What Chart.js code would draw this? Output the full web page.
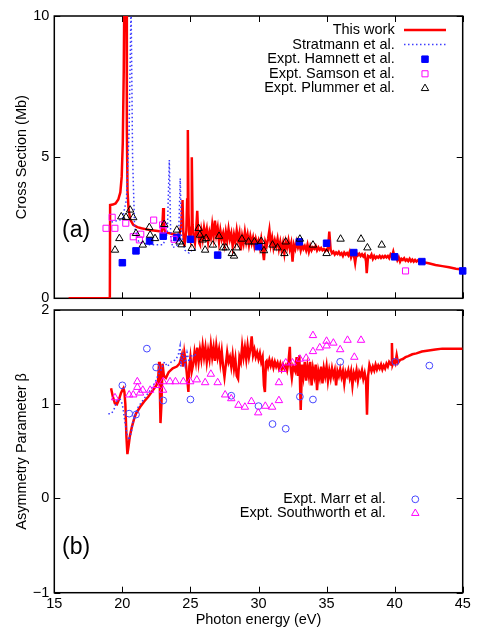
<!DOCTYPE html>
<html><head><meta charset="utf-8">
<script src="https://cdn.jsdelivr.net/npm/chart.js"></script>
<style>
html,body{margin:0;padding:0;background:#fff;overflow:hidden;}
#w1{position:absolute;left:0;top:0;width:486px;height:304px;}
#w2{position:absolute;left:0;top:304px;width:486px;height:325px;}
</style></head><body>
<div id="w1"><canvas id="c1"></canvas></div>
<div id="w2"><canvas id="c2"></canvas></div>
<script>
// ---------- tick labels ----------
const energyTicks = [15, 20, 25, 30, 35, 40, 45];
const sigmaTicks = [0, 5, 10];
const betaTicks = [-1, 0, 1, 2];

// ---------- panel (a): cross section (Mb) vs photon energy (eV) ----------
const workSigma = [
[16.05,0],[19.08,0],[19.1,3.3],[19.3,3.32],[19.5,3.36],[19.7,3.5],[19.85,3.75],[19.95,4.3],[20.03,5.5],[20.1,8],[20.15,11],
[20.3,11],[20.33,6],[20.38,3.8],[20.45,3.2],[20.57,2.8],[20.8,2.6],[21.1,2.52],[21.4,2.48],[21.7,2.45],[22.0,2.42],[22.3,2.4],
[22.6,2.38],[22.9,2.36],[22.96,2.8],[23.0,3.2],[23.05,2.5],[23.15,2.34],[23.4,2.31],[23.7,2.28],[24.0,2.24],[24.2,2.27],
[24.33,2.6],[24.42,3.48],[24.48,2.3],[24.55,1.83],[24.62,2.1],[24.7,2.4],[24.76,3.5],[24.81,5.96],[24.86,3.0],[24.92,2.2],
[25.0,2.05],[25.05,2.5],[25.1,5.0],[25.16,2.6],[25.25,2.1],[25.33,1.95],[25.42,2.4],[25.5,3.1],[25.57,2.3],[25.65,1.95],
[25.7,1.9],[25.8,2.4],[25.9,2.1],[26.0,2.5],[26.1,2.2],[26.2,2.45],[26.3,2.0],[26.4,2.35],[26.5,2.15],[26.6,2.6],[26.7,2.2],
[26.8,2.75],[26.9,2.25],[27.0,2.5],[27.1,2.0],[27.2,2.4],[27.3,2.1],[27.4,2.3],[27.5,1.95],[27.6,2.35],[27.7,2.05],[27.8,2.45],
[27.9,2.1],[28.0,2.3],[28.1,1.85],[28.2,2.25],[28.3,2.0],[28.4,2.4],[28.5,2.05],[28.6,2.3],[28.7,1.7],[28.8,2.2],[28.9,1.95],
[29.0,2.35],[29.1,2.0],[29.2,2.25],[29.3,1.9],[29.4,2.2],[29.5,1.95],[29.6,2.15],[29.7,1.85],[29.8,2.1],[29.9,1.9],[30.0,2.05],
[30.1,1.8],[30.2,2.1],[30.3,1.75],[30.4,1.35],[30.5,2.0],[30.6,1.85],[30.7,2.1],[30.8,2.42],[30.9,1.9],[31.0,2.15],[31.1,1.8],
[31.2,2.05],[31.3,1.85],[31.4,2.1],[31.5,1.75],[31.6,2.0],[31.7,1.7],[31.8,1.95],[31.9,1.6],[32.0,2.0],[32.1,1.8],[32.2,2.05],
[32.3,1.75],[32.4,1.95],[32.5,1.3],[32.6,1.9],[32.7,1.75],[32.8,2.0],[32.9,1.8],[33.0,1.95],[33.1,1.7],[33.2,1.9],[33.3,1.75],
[33.4,1.85],[33.5,1.7],[33.6,1.9],[33.7,1.65],[33.8,1.85],[33.9,1.7],[34.0,1.8],[34.1,1.75],[34.2,1.85],[34.3,1.7],[34.4,1.8],
[34.5,1.72],[34.6,1.78],[34.7,1.7],[34.8,1.75],[34.9,1.68],[35.0,1.74],[35.1,1.7],[35.2,2.36],[35.3,1.72],[35.4,1.6],[35.5,1.65],
[35.6,1.55],[35.7,1.62],[35.8,1.57],[35.9,1.64],[36.0,1.55],[36.1,1.6],[36.2,1.5],[36.3,1.62],[36.4,1.55],[36.5,1.6],[36.6,1.52],
[36.7,1.65],[36.8,1.45],[36.9,1.58],[37.0,1.55],[37.1,1.25],[37.2,1.6],[37.3,1.52],[37.4,1.58],[37.5,1.5],[37.6,1.56],[37.7,1.48],
[37.8,1.55],[37.9,1.3],[37.95,0.89],[38.05,1.5],[38.2,1.45],[38.3,1.55],[38.4,1.4],[38.5,1.5],[38.6,1.42],[38.7,1.48],[38.8,1.44],
[38.9,1.5],[39.0,1.43],[39.1,1.49],[39.2,1.44],[39.3,1.5],[39.4,1.45],[39.5,1.5],[39.6,1.42],[39.7,1.55],[39.8,1.48],[39.9,1.65],
[40.0,1.45],[40.1,1.5],[40.2,1.35],[40.3,1.45],[40.4,1.3],[40.5,1.4],[40.6,1.36],[40.7,1.42],[40.8,1.33],[40.9,1.38],[41.0,1.32],
[41.1,1.4],[41.2,1.31],[41.3,1.37],[41.4,1.3],[41.5,1.36],[41.6,1.3],[41.7,1.34],[41.8,1.3],[42.0,1.29],[42.5,1.24],[43.0,1.18],
[43.5,1.14],[44.0,1.1],[44.5,1.05],[45.0,1.02]
];
const stratmannSigma = [
[19.2,2.7],[19.6,2.75],[20.0,2.8],[20.3,3.5],[20.5,6],[20.64,10.5],[20.75,5],[20.9,2.5],[21.2,2.0],[21.6,1.95],[22.0,1.9],
[22.5,1.9],[23.0,1.9],[23.3,2.3],[23.45,4.9],[23.55,2.2],[23.7,1.8],[24.0,1.85],[24.15,2.5],[24.25,4.25],[24.35,2.2],[24.6,1.7],
[24.9,1.6],[25.2,1.75],[25.5,1.7]
];
const hamnettE = [20, 21, 22, 23, 24, 25, 27, 30, 33, 35, 37, 40, 42, 45];
const hamnettSigma = [1.26, 1.68, 2.03, 2.2, 2.15, 2.09, 1.53, 1.83, 2.0, 1.95, 1.62, 1.47, 1.3, 0.97];
const samsonSigma = [
[18.8,2.48],[19.25,2.87],[19.45,2.48],[20.25,2.66],[20.8,2.18],[21.25,2.07],[21.35,2.27],[22.3,2.77],[22.95,2.6],[23.0,2.42],
[23.8,2.09],[40.8,0.97]
];
const plummerSigma = [
[19.46,1.71],[19.78,2.12],[19.92,2.89],[20.27,2.87],[20.57,3.13],[20.8,2.86],[21.0,2.3],[21.5,1.89],[21.98,2.51],[22.04,2.24],
[22.4,2.12],[23.07,2.62],[24.0,2.42],[24.2,2.0],[24.35,1.9],[25.1,1.77],[25.6,2.48],[25.7,2.24],[25.9,2.07],[26.08,1.71],
[26.15,2.12],[26.65,1.89],[27.1,2.2],[27.4,1.79],[27.6,1.79],[28.04,1.59],[28.2,1.5],[28.4,1.79],[28.78,2.1],[29.27,2.0],
[29.7,2.0],[30.2,2.02],[30.4,1.69],[31.03,1.89],[31.4,1.79],[31.9,1.59],[32.0,2.0],[33.04,2.1],[34.0,1.89],[35.0,1.59],
[36.03,2.1],[37.53,2.1],[38.0,1.79],[39.05,1.89]
];

// ---------- panel (b): asymmetry parameter beta ----------
const workBeta = [
[19.17,1.17],[19.3,1.08],[19.45,1.01],[19.6,1.0],[19.75,1.05],[19.9,1.12],[20.0,1.15],[20.08,1.17],[20.15,1.13],[20.22,1.0],
[20.3,0.65],[20.37,0.47],[20.45,0.55],[20.55,0.66],[20.7,0.76],[20.85,0.84],[21.0,0.9],[21.3,0.97],[21.6,1.03],[21.9,1.08],
[22.2,1.14],[22.5,1.2],[22.62,1.25],[22.7,1.45],[22.75,1.2],[22.8,0.8],[22.87,1.0],[22.95,1.43],[23.05,1.3],[23.2,1.28],
[23.4,1.34],[23.7,1.38],[24.0,1.4],[24.2,1.43],[24.3,1.48],[24.37,1.52],[24.45,1.4],[24.55,1.55],[24.65,1.45],[24.75,1.3],
[24.85,1.13],[24.92,1.4],[25.0,1.5],[25.1,1.35],[25.2,1.42],[25.3,1.55],[25.4,1.45],[25.5,1.6],[25.6,1.45],[25.7,1.58],
[25.8,1.48],[25.9,1.62],[26.0,1.5],[26.1,1.6],[26.2,1.45],[26.3,1.57],[26.4,1.48],[26.5,1.63],[26.6,1.5],[26.7,1.6],[26.8,1.46],
[26.9,1.62],[27.0,1.5],[27.1,1.58],[27.2,1.44],[27.3,1.56],[27.4,1.4],[27.5,1.29],[27.6,1.42],[27.7,1.55],[27.8,1.45],[27.9,1.5],
[28.0,1.4],[28.1,1.52],[28.2,1.38],[28.3,1.48],[28.4,1.3],[28.5,1.27],[28.6,1.5],[28.7,1.45],[28.8,1.62],[28.9,1.5],[29.0,1.6],
[29.1,1.48],[29.2,1.62],[29.3,1.5],[29.4,1.58],[29.5,1.72],[29.6,1.52],[29.7,1.58],[29.8,1.5],[29.9,1.55],[30.0,1.48],[30.1,1.54],
[30.2,1.45],[30.3,1.5],[30.4,1.2],[30.47,1.13],[30.55,1.45],[30.6,1.46],[30.7,1.4],[30.8,1.47],[30.9,1.41],[31.0,1.46],[31.1,1.39],
[31.2,1.45],[31.3,1.4],[31.4,1.44],[31.5,1.38],[31.6,1.43],[31.7,1.37],[31.8,1.42],[31.9,1.38],[32.0,1.41],[32.1,1.36],[32.2,1.45],
[32.3,1.61],[32.35,1.4],[32.45,1.28],[32.55,1.4],[32.7,1.35],[32.8,1.5],[32.9,1.3],[33.0,1.52],[33.1,0.94],[33.2,1.42],[33.3,1.3],
[33.4,1.45],[33.5,1.25],[33.6,1.4],[33.7,1.3],[33.8,1.45],[33.9,1.2],[34.0,1.38],[34.1,1.3],[34.2,1.42],[34.3,1.15],[34.4,1.35],
[34.5,1.28],[34.6,1.4],[34.7,1.22],[34.8,1.38],[34.9,1.3],[35.0,1.4],[35.1,1.25],[35.2,1.36],[35.3,1.28],[35.4,1.38],[35.5,1.3],
[35.6,1.36],[35.7,1.2],[35.8,1.35],[35.9,1.3],[36.0,1.37],[36.1,1.29],[36.2,1.35],[36.3,1.22],[36.4,1.34],[36.5,1.3],[36.6,1.36],
[36.7,1.28],[36.8,1.35],[36.9,1.2],[37.0,1.33],[37.1,1.28],[37.2,1.36],[37.3,1.25],[37.4,1.34],[37.5,1.3],[37.6,1.36],[37.7,1.27],
[37.8,1.33],[37.9,1.25],[37.97,0.89],[38.05,1.3],[38.15,1.42],[38.3,1.35],[38.4,1.4],[38.5,1.36],[38.6,1.42],[38.7,1.37],
[38.8,1.41],[38.9,1.38],[39.0,1.42],[39.1,1.37],[39.2,1.41],[39.3,1.38],[39.4,1.43],[39.5,1.4],[39.6,1.45],[39.75,1.42],
[39.8,1.65],[39.85,1.42],[39.95,1.46],[40.05,1.43],[40.15,1.52],[40.25,1.44],[40.4,1.47],[40.6,1.48],[40.8,1.5],[41.0,1.51],
[41.3,1.53],[41.6,1.54],[42.0,1.56],[42.5,1.57],[43.0,1.58],[43.5,1.59],[44.0,1.59],[44.5,1.59],[45.0,1.59]
];
const stratmannBeta = [
[18.97,0.9],[19.2,0.9],[19.4,0.95],[19.6,1.04],[19.85,1.05],[20.0,1.0],[20.2,0.8],[20.35,0.68],[20.5,0.62],[20.65,0.7],
[20.8,0.83],[21.0,0.92],[21.2,0.98],[21.5,1.04],[21.8,1.1],[22.1,1.16],[22.4,1.23],[22.6,1.3],[22.8,1.35],[23.0,1.42],
[23.1,1.45],[23.3,1.4],[23.6,1.45],[23.9,1.47],[24.1,1.52],[24.24,1.62],[24.3,1.4],[24.45,1.55],[24.6,1.42],[24.75,1.55],
[24.9,1.45],[25.1,1.53],[25.3,1.5],[25.45,1.56]
];
const marrBeta = [
[20.0,1.2],[20.5,0.9],[21.0,0.89],[21.8,1.59],[22.48,1.39],[23.0,1.04],[25.0,1.05],[28.0,1.09],[30.0,0.98],[31.03,0.79],
[32.0,0.74],[33.04,1.08],[34.0,1.05],[36.0,1.45],[40.05,1.45],[42.55,1.41]
];
const southworthBeta = [
[19.46,1.07],[20.5,1.1],[20.8,1.1],[21.1,1.24],[21.1,1.18],[21.3,1.12],[21.5,1.15],[22.04,1.15],[22.5,1.2],[22.99,1.15],
[22.99,1.24],[23.5,1.24],[23.9,1.24],[24.48,1.24],[24.98,1.24],[25.47,1.26],[26.08,1.23],[26.5,1.32],[27.0,1.23],[27.55,1.1],
[28.0,1.06],[28.53,0.99],[29.0,0.97],[29.48,1.03],[29.98,0.91],[30.5,0.98],[31.0,0.97],[31.5,1.04],[31.5,1.23],[31.77,1.37],
[32.0,1.44],[32.5,1.44],[33.04,1.48],[33.5,1.49],[34.0,1.56],[34.0,1.73],[34.5,1.6],[35.0,1.67],[35.0,1.62],[35.5,1.65],
[36.0,1.58],[36.54,1.68],[37.04,1.5],[37.53,1.68]
];

// ---------- helpers ----------
const FONT = '"Liberation Sans", Arial, Helvetica, sans-serif';
const FS = 14.5;
Chart.defaults.font.family = FONT;
Chart.defaults.color = '#000';
const pts = a => a.map(([x, y]) => ({x, y}));
const zip = (xs, ys) => xs.map((x, i) => ({x, y: ys[i]}));
const RED = '#ff0000', BLUE_DOT = 'rgb(60,60,255)';

function drawSymbol(ctx, ds, x, y) {
  const r = ds.pointRadius;
  ctx.save();
  ctx.lineWidth = ds.pointBorderWidth ?? 1;
  ctx.strokeStyle = ds.pointBorderColor;
  ctx.fillStyle = ds.pointBackgroundColor;
  ctx.beginPath();
  if (ds.pointStyle === 'rect') {
    const s = Math.SQRT1_2 * r;
    ctx.rect(x - s, y - s, 2 * s, 2 * s);
  } else if (ds.pointStyle === 'triangle') {
    ctx.moveTo(x, y - r);
    ctx.lineTo(x + r * Math.cos(Math.PI / 6), y + r / 2);
    ctx.lineTo(x - r * Math.cos(Math.PI / 6), y + r / 2);
    ctx.closePath();
  } else {
    ctx.arc(x, y, r, 0, Math.PI * 2);
  }
  ctx.fill(); ctx.stroke();
  ctx.restore();
}

const framePlugin = {
  id: 'frame',
  beforeDatasetsDraw(chart, args, o) {
    const {ctx, chartArea: a, scales} = chart;
    ctx.save();
    ctx.strokeStyle = '#000';
    ctx.lineWidth = 1;
    const tl = 6;
    ctx.beginPath();
    scales.x.ticks.forEach(t => {
      const px = Math.round(scales.x.getPixelForValue(t.value)) + 0.5;
      ctx.moveTo(px, a.bottom); ctx.lineTo(px, a.bottom - tl);
      ctx.moveTo(px, a.top); ctx.lineTo(px, a.top + tl);
    });
    scales.y.ticks.forEach(t => {
      const py = Math.round(scales.y.getPixelForValue(t.value)) + 0.5;
      ctx.moveTo(a.left, py); ctx.lineTo(a.left + tl, py);
      ctx.moveTo(a.right, py); ctx.lineTo(a.right - tl, py);
    });
    ctx.stroke();
    ctx.lineWidth = 1.5;
    ctx.strokeRect(a.left, a.top, a.right - a.left, a.bottom - a.top);
    ctx.restore();
  },
  afterDraw(chart, args, o) {
    const {ctx} = chart;
    ctx.save();
    ctx.fillStyle = '#000';
    ctx.font = '23px ' + FONT;
    ctx.textAlign = 'left';
    ctx.textBaseline = 'middle';
    ctx.fillText(o.label, o.labelX, o.labelY);
    ctx.font = FS + 'px ' + FONT;
    ctx.textAlign = 'right';
    let row = 0;
    chart.data.datasets.forEach(ds => {
      if (!ds.label) return;
      const y = o.legendY + row * o.legendDY;
      row++;
      ctx.fillStyle = '#000';
      ctx.fillText(ds.label, o.textRight, y);
      if (ds.showLine) {
        ctx.save();
        ctx.strokeStyle = ds.borderColor;
        ctx.lineWidth = ds.borderWidth;
        ctx.setLineDash(ds.borderDash || []);
        ctx.beginPath();
        ctx.moveTo(o.sample0, y); ctx.lineTo(o.sample1, y);
        ctx.stroke();
        ctx.restore();
      } else {
        drawSymbol(ctx, ds, o.symbolX, y);
      }
    });
    ctx.restore();
  }
};

function xScale(showLabels, height) {
  return {
    type: 'linear', min: 15, max: 45,
    afterBuildTicks: s => { s.ticks = energyTicks.map(v => ({value: v})); },
    grid: {display: false, drawTicks: false},
    border: {display: false},
    ticks: {display: showLabels, font: {size: FS}, color: '#000', padding: 3, maxRotation: 0},
    title: {display: showLabels, text: 'Photon energy (eV)', font: {size: FS}, color: '#000', padding: {top: 0, bottom: 0}},
    afterFit: s => { s.height = height; }
  };
}
function yScale(min, max, tickArr, title) {
  return {
    type: 'linear', min, max,
    afterBuildTicks: s => { s.ticks = tickArr.map(v => ({value: v})); },
    grid: {display: false, drawTicks: false},
    border: {display: false},
    ticks: {font: {size: FS, lineHeight: 0.01}, color: '#000', padding: 5,
      callback: v => (v < 0 ? '\u2212' + Math.abs(v) : String(v))},
    title: {display: true, text: title, font: {size: FS}, color: '#000', padding: {top: 13.3, bottom: 0}},
    afterFit: s => { s.width = 54.3; }
  };
}

const lineDs = (label, data, color, width, dash, order) => ({
  label, data, showLine: true, borderColor: color, borderWidth: width, borderDash: dash,
  pointRadius: 0, pointHoverRadius: 0, fill: false, tension: 0, order, borderJoinStyle: 'miter'
});
const pointDs = (label, data, style, r, fillC, borderC, order) => ({
  label, data, showLine: false, pointStyle: style, pointRadius: r, pointHoverRadius: r,
  pointBackgroundColor: fillC, pointBorderColor: borderC, pointBorderWidth: 1, order, clip: false
});

new Chart(document.getElementById('c1'), {
  type: 'scatter',
  data: {datasets: [
    lineDs('This work', pts(workSigma), RED, 2.5, [], 5),
    lineDs('Stratmann et al.', pts(stratmannSigma), BLUE_DOT, 1.5, [1.5, 2.5], 4),
    pointDs('Expt. Hamnett et al.', zip(hamnettE, hamnettSigma), 'rect', 4.6, '#0000ff', '#0000ff', 3),
    pointDs('Expt. Samson et al.', pts(samsonSigma), 'rect', 4.3, 'rgba(0,0,0,0)', '#ff00ff', 2),
    pointDs('Expt. Plummer et al.', pts(plummerSigma), 'triangle', 4.3, 'rgba(0,0,0,0)', '#000', 1)
  ]},
  options: {
    responsive: true, maintainAspectRatio: false, animation: false, devicePixelRatio: 1,
    layout: {padding: {left: 0, right: 23.3, top: 16, bottom: 0}},
    scales: {x: xScale(false, 5.7), y: yScale(0, 10, sigmaTicks, 'Cross Section (Mb)')},
    plugins: {
      legend: {display: false}, tooltip: {enabled: false},
      frame: {label: '(a)', labelX: 62, labelY: 231, textRight: 394.7, legendY: 30, legendDY: 14.6,
        sample0: 404, sample1: 446, symbolX: 425}
    }
  },
  plugins: [framePlugin]
});

new Chart(document.getElementById('c2'), {
  type: 'scatter',
  data: {datasets: [
    lineDs('', pts(workBeta), RED, 2.5, [], 5),
    lineDs('', pts(stratmannBeta), BLUE_DOT, 1.5, [1.5, 2.5], 4),
    pointDs('Expt. Marr et al.', pts(marrBeta), 'circle', 3.4, 'rgba(0,0,0,0)', 'rgb(70,70,255)', 3),
    pointDs('Expt. Southworth et al.', pts(southworthBeta), 'triangle', 4.3, 'rgba(0,0,0,0)', '#ff00ff', 2)
  ]},
  options: {
    responsive: true, maintainAspectRatio: false, animation: false, devicePixelRatio: 1,
    layout: {padding: {left: 0, right: 23.3, top: 6, bottom: 0}},
    scales: {x: xScale(true, 36.3), y: yScale(-1, 2, betaTicks, 'Asymmetry Parameter \u03b2')},
    plugins: {
      legend: {display: false}, tooltip: {enabled: false},
      frame: {label: '(b)', labelX: 62, labelY: 244, textRight: 385.7, legendY: 195.3, legendDY: 14,
        sample0: 395, sample1: 436, symbolX: 415.3}
    }
  },
  plugins: [framePlugin]
});
</script>
</body></html>
